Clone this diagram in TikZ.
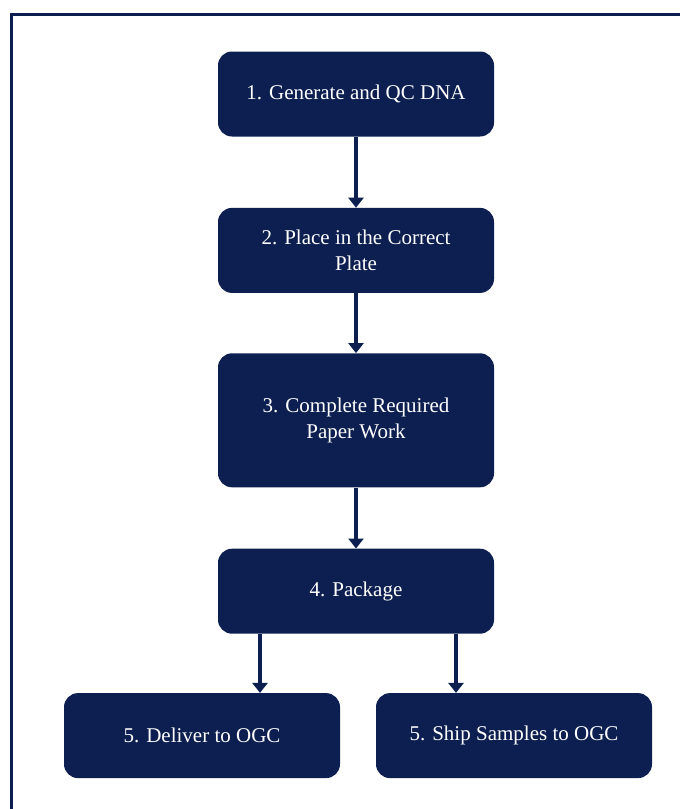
\documentclass[tikz,border=0pt]{standalone}
\usepackage{fontspec}
\setmainfont{Liberation Serif}
\usetikzlibrary{arrows.meta,positioning}
\definecolor{navy}{RGB}{12,31,80}

\begin{document}
\begin{tikzpicture}[
  x=1pt, y=-1pt,
  font=\fontsize{21}{25.5}\selectfont,
  box/.style={fill=navy,text=white,rounded corners=14pt,align=center,minimum width=276pt,minimum height=85pt,inner sep=4pt},
  arr/.style={-{Triangle[width=15pt,length=10pt]},line width=3.8pt,draw=navy}
]
\clip (0,0) rectangle (680,809);
\draw[navy,line width=3.2pt] (11.7,830) |- (700,14.7);
\node[box] (gen) at (356,94) {1. Generate and QC DNA};
\node[box,below=71pt of gen] (place) {2. Place in the Correct\\Plate};
\node[box,below=60pt of place,minimum height=134pt] (paper) {3. Complete Required\\Paper Work};
\node[box,below=61pt of paper] (pkg) {4. Package};
\node[box,below=59pt of pkg,xshift=-154pt] (deliver) {5. Deliver to OGC};
\node[box,below=59pt of pkg,xshift=158pt] (ship) {5. Ship Samples to OGC};
\draw[arr] (gen) -- (place);
\draw[arr] (place) -- (paper);
\draw[arr] (paper) -- (pkg);
\draw[arr] ([xshift=-96pt]pkg.south) -- ([xshift=-96pt]pkg.south |- deliver.north);
\draw[arr] ([xshift=100pt]pkg.south) -- ([xshift=100pt]pkg.south |- ship.north);
\end{tikzpicture}
\end{document}
